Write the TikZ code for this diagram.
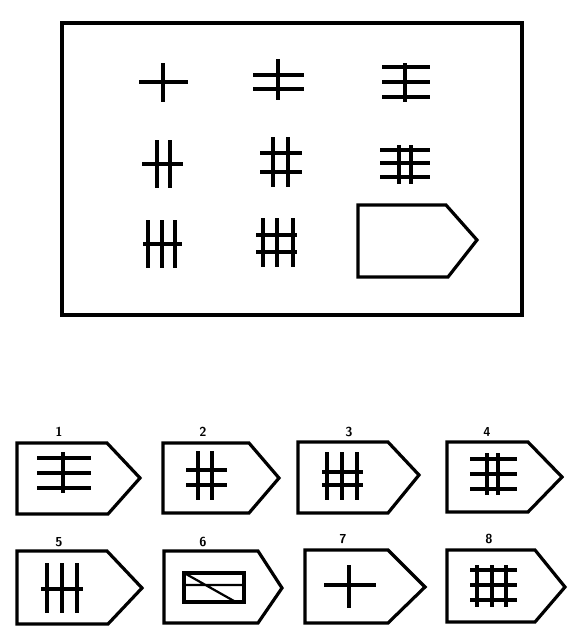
\documentclass[tikz,border=0pt]{standalone}
\begin{document}
\begin{tikzpicture}[x=1pt,y=-1pt,
  stroke/.style={line width=4pt},
  frame/.style={line width=3.6pt},
  tag/.style={line width=3.2pt, line join=miter},
  num/.style={font=\sffamily\bfseries\fontsize{13}{13}\selectfont, inner sep=0pt}]
\useasboundingbox (0,0) rectangle (579,643);
% main box
\draw[frame] (62,23) rectangle (522,315);
% row 1
\draw[stroke] (139,82) -- (188,82) (163,63) -- (163,102);
\draw[stroke] (278,59) -- (278,100) (253,75) -- (304,75) (253,89) -- (304,89);
\draw[stroke] (405,63) -- (405,102) (382,67) -- (430,67) (382,82) -- (430,82) (382,97) -- (430,97);
% row 2
\draw[stroke] (157,140) -- (157,188) (170,140) -- (170,188) (142,164) -- (183,164);
\draw[stroke] (273,137) -- (273,187) (288,137) -- (288,187) (260,153) -- (302,153) (260,172) -- (302,172);
\draw[stroke] (399,145) -- (399,184) (411,145) -- (411,184) (380,150) -- (430,150) (380,163) -- (430,163) (380,177) -- (430,177);
% row 3
\draw[stroke] (148,220) -- (148,268) (162,220) -- (162,268) (175,220) -- (175,268) (143,244) -- (182,244);
\draw[stroke] (263,218) -- (263,267) (277,218) -- (277,267) (293,218) -- (293,267) (256,235) -- (297,235) (256,252) -- (297,252);
\draw[tag] (358,205) -- (446,205) -- (477,240) -- (448,277) -- (358,277) -- cycle;
% option 1
\node[num] (n1) at (59,432) {1};
\draw[tag] (17,443) -- (107,443) -- (140,478) -- (108,514) -- (17,514) -- cycle;
\draw[stroke] (63,452) -- (63,493) (37,458) -- (91,458) (37,473) -- (91,473) (37,488) -- (91,488);
% option 2
\node[num] (n2) at (203,432) {2};
\draw[tag] (163,443) -- (249,443) -- (279,478) -- (249,513) -- (163,513) -- cycle;
\draw[stroke] (198,451) -- (198,500) (212,451) -- (212,500) (186,470) -- (227,470) (186,485) -- (227,485);
% option 3
\node[num] (n3) at (349,432) {3};
\draw[tag] (298,442) -- (388,442) -- (419,475) -- (388,513) -- (298,513) -- cycle;
\draw[stroke] (327,452) -- (327,500) (342,452) -- (342,500) (357,452) -- (357,500) (322,472) -- (363,472) (322,485) -- (363,485);
% option 4
\node[num] (n4) at (487,432) {4};
\draw[tag] (447,442) -- (528,442) -- (562,477) -- (528,512) -- (447,512) -- cycle;
\draw[stroke] (487,453) -- (487,495) (498,453) -- (498,495) (470,459) -- (517,459) (470,474) -- (517,474) (470,489) -- (517,489);
% option 5
\node[num] (n5) at (59,542) {5};
\draw[tag] (17,551) -- (107,551) -- (142,588) -- (108,624) -- (17,624) -- cycle;
\draw[stroke] (47,563) -- (47,613) (62,563) -- (62,613) (77,563) -- (77,613) (41,589) -- (83,589);
% option 6
\node[num] (n6) at (203,542) {6};
\draw[tag] (164,551) -- (258,551) -- (282,588) -- (258,623) -- (164,623) -- cycle;
\draw[line width=4.5pt] (184,573) rectangle (244,602);
\draw[line width=2.2pt] (186,585) -- (242,585) (186,574) -- (234,601);
% option 7
\node[num] (n7) at (343,539) {7};
\draw[tag] (305,550) -- (388,550) -- (425,587) -- (388,623) -- (305,623) -- cycle;
\draw[stroke] (324,585) -- (376,585) (349,565) -- (349,608);
% option 8
\node[num] (n8) at (489,539) {8};
\draw[tag] (447,550) -- (535,550) -- (565,587) -- (535,622) -- (447,622) -- cycle;
\draw[stroke] (477,565) -- (477,607) (492,565) -- (492,607) (506,565) -- (506,607) (470,570) -- (517,570) (470,585) -- (517,585) (470,600) -- (517,600);
\end{tikzpicture}
\end{document}
